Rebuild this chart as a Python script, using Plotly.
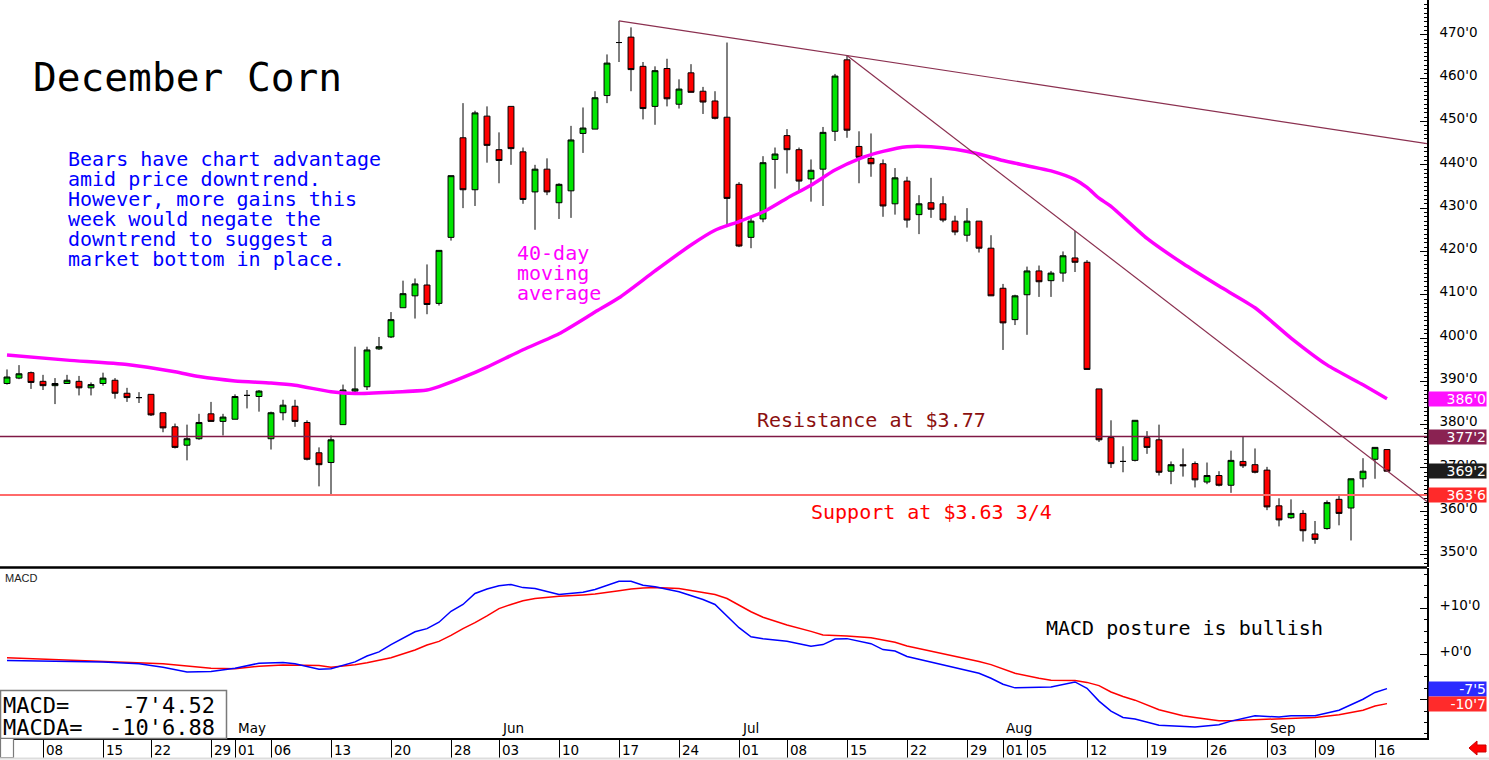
import pandas as pd
import plotly.graph_objects as go

# ---------------- data ----------------
holidays = ["2019-04-19", "2019-05-27", "2019-07-04", "2019-09-02"]
dates = [d for d in pd.bdate_range("2019-04-03", "2019-09-17")
         if d.strftime("%Y-%m-%d") not in holidays]
x_idx = list(range(len(dates)))

opens = [389.5, 390.75, 392.0, 390.0, 389.0, 389.5, 390.0, 388.5, 389.5, 390.25,
         387.25, 386.25, 387.0, 382.75, 379.5, 375.25, 376.75, 382.5, 380.75, 381.25,
         386.75, 386.5, 376.75, 382.75, 384.25, 380.5, 373.5, 371.25, 380.0, 387.75,
         388.75, 397.5, 400.25, 407.0, 409.75, 412.25, 408.0, 423.25, 446.25, 434.25,
         451.25, 443.5, 453.5, 443.0, 433.75, 439.0, 431.25, 434.0, 447.25, 448.25,
         456.0, 468.25, 469.5, 462.75, 453.5, 462.25, 454.0, 461.25, 457.0, 454.75,
         451.0, 435.5, 423.25, 427.5, 441.25, 446.75, 443.5, 436.75, 439.0, 447.75,
         464.25, 444.25, 441.5, 440.25, 431.0, 436.25, 428.5, 431.25, 431.0, 427.0,
         423.75, 427.0, 420.75, 411.5, 404.25, 410.0, 415.5, 413.25, 415.0, 418.5,
         417.5, 388.25, 377.0, 371.5, 371.75, 377.0, 376.5, 369.25, 370.75, 371.0,
         366.75, 368.25, 366.0, 371.5, 370.75, 369.5, 361.25, 358.5, 359.5, 354.75,
         356.0, 362.75, 360.75, 367.5, 372.0, 374.25]
highs = [392.75, 393.75, 392.25, 391.5, 390.75, 391.5, 391.25, 389.75, 392.0, 390.75,
         388.5, 387.5, 387.0, 382.75, 380.25, 380.0, 382.5, 385.25, 382.5, 387.0,
         388.0, 388.0, 383.0, 385.75, 385.75, 381.0, 374.75, 377.5, 389.25, 398.0,
         398.0, 400.25, 406.0, 413.25, 413.75, 417.0, 420.25, 437.5, 454.25, 452.5,
         453.5, 447.5, 453.5, 444.0, 440.0, 441.5, 435.75, 449.0, 453.25, 457.0,
         465.5, 473.25, 471.75, 463.75, 462.75, 464.5, 459.75, 463.25, 458.0, 457.0,
         468.25, 436.0, 428.0, 442.0, 444.0, 448.25, 444.0, 441.25, 448.75, 461.0,
         465.25, 447.75, 447.25, 441.25, 439.25, 437.25, 433.0, 437.0, 432.75, 428.25,
         430.0, 427.0, 423.75, 412.5, 410.0, 416.5, 416.75, 415.5, 420.0, 424.75,
         418.0, 388.25, 381.0, 375.0, 381.0, 378.5, 380.0, 371.5, 374.5, 371.5,
         371.25, 369.25, 374.0, 377.25, 374.5, 370.25, 363.0, 362.75, 360.25, 357.75,
         362.5, 363.5, 367.5, 372.25, 374.75, 374.25]
lows = [389.25, 390.5, 388.25, 388.0, 384.75, 389.5, 386.75, 386.75, 389.0, 386.0,
        385.25, 385.0, 382.0, 378.25, 374.5, 371.75, 376.5, 380.75, 377.5, 381.25,
        383.75, 383.0, 374.25, 381.0, 379.5, 371.75, 365.75, 363.75, 380.0, 387.25,
        388.0, 397.25, 400.0, 407.0, 404.5, 405.5, 407.5, 422.5, 430.0, 430.5,
        440.5, 435.75, 440.0, 431.0, 425.0, 433.0, 427.5, 427.75, 442.75, 448.25,
        454.25, 463.75, 457.0, 450.5, 449.25, 453.5, 453.0, 456.75, 451.75, 450.5,
        426.0, 421.0, 420.75, 426.75, 434.5, 438.0, 433.5, 431.5, 430.5, 445.5,
        446.25, 435.75, 437.25, 428.0, 428.5, 425.5, 424.0, 427.75, 426.75, 423.75,
        422.25, 419.75, 409.75, 397.25, 403.0, 400.75, 409.5, 409.5, 413.0, 415.25,
        392.75, 376.0, 370.0, 369.0, 371.5, 373.25, 368.25, 366.25, 368.0, 365.5,
        366.25, 365.75, 364.25, 370.0, 368.75, 360.25, 356.5, 358.25, 353.0, 352.5,
        355.75, 356.75, 353.25, 365.5, 367.5, 369.25]
closes = [391.0, 391.75, 389.75, 389.0, 389.5, 390.25, 388.5, 389.25, 390.75, 387.25,
          386.25, 386.25, 382.25, 379.25, 374.75, 376.75, 380.5, 380.75, 381.75, 386.5,
          386.75, 387.75, 382.75, 384.5, 380.75, 372.0, 370.75, 376.5, 388.0, 388.25,
          397.25, 398.0, 404.25, 410.25, 412.5, 407.75, 420.25, 437.5, 434.25, 452.0,
          444.5, 441.0, 443.75, 432.0, 439.0, 433.75, 435.5, 445.75, 448.5, 455.5,
          463.5, 468.25, 462.0, 453.0, 461.75, 455.25, 457.5, 456.75, 454.5, 450.75,
          432.25, 421.25, 427.0, 440.5, 442.5, 443.5, 436.25, 438.75, 447.5, 460.5,
          448.0, 441.75, 440.25, 430.5, 437.0, 427.25, 431.0, 429.75, 427.25, 424.5,
          427.0, 420.75, 409.75, 403.5, 409.75, 415.5, 413.0, 415.0, 419.0, 417.5,
          392.75, 376.5, 371.0, 371.5, 381.0, 374.75, 369.0, 370.75, 370.5, 367.25,
          368.25, 366.0, 371.75, 370.5, 369.0, 361.0, 358.0, 359.5, 355.5, 353.5,
          362.0, 359.5, 367.5, 369.25, 374.75, 369.25]

# 40-day moving average, read at selected sessions
ma_idx = [0, 5, 10, 14, 16, 19, 22, 24, 27, 29, 32, 35, 36, 38, 40, 43, 46, 49, 51, 54,
          57, 59, 61, 63, 65, 67, 69, 71, 73, 75, 77, 79, 81, 83, 85, 87, 89, 90, 91, 92,
          95, 98, 101, 104, 107, 110, 113, 115]
ma_val = [396.1, 394.9, 393.9, 392.2, 391.1, 390.1, 389.6, 389.1, 387.6, 387.2,
          387.5, 388.0, 388.8, 390.9, 393.3, 397.3, 401.0, 406.0, 409.3, 415.5,
          421.5, 424.9, 426.9, 429.1, 432.3, 435.3, 438.8, 441.4, 443.1, 444.2,
          444.2, 443.6, 442.5, 441.0, 439.8, 438.6, 436.6, 434.8, 432.3, 430.4,
          423.0, 417.2, 412.0, 407.0, 400.0, 393.8, 389.2, 386.0]

# MACD (blue) and its average (red), read at selected sessions
macd_idx = [0, 2, 8, 11, 13, 15, 17, 19, 21, 23, 24, 26, 27, 29, 30, 31, 32, 34, 35, 36,
            37, 38, 39, 40, 41, 42, 43, 44, 46, 48, 49, 51, 52, 53, 54, 56, 58, 59, 60, 61,
            62, 63, 65, 67, 68, 69, 70, 72, 73, 74, 75, 77, 79, 81, 82, 83, 84, 86, 87, 89,
            90, 91, 92, 93, 94, 96, 98, 99, 101, 102, 104, 106, 107, 109, 111, 112, 113, 114, 115]
macd_val = [-1.4, -1.5, -1.7, -2.1, -2.9, -3.9, -3.8, -3.1, -2.0, -1.85, -2.1, -3.3, -3.2, -1.7,
            -0.4, 0.5, 2.1, 4.9, 5.6, 7.0, 9.4, 10.9, 13.3, 14.3, 15.0, 15.3, 14.6, 14.4, 13.1,
            13.6, 14.2, 16.0, 16.0, 15.1, 14.8, 13.7, 12.0, 10.9, 8.4, 5.8, 3.8, 3.4, 2.85, 1.75,
            2.1, 3.3, 3.4, 2.3, 1.0, 0.7, -0.5, -1.7, -3.0, -4.2, -5.3, -6.6, -7.4, -7.2, -7.2,
            -6.1, -7.5, -10.3, -12.5, -13.9, -14.25, -15.6, -15.8, -16.0, -15.5, -14.7, -13.5,
            -13.8, -13.5, -13.5, -12.3, -11.1, -9.9, -8.4, -7.57]
macda_val = [-0.8, -1.0, -1.55, -1.75, -2.1, -2.6, -3.1, -3.2, -2.65, -2.4, -2.4, -2.5, -2.85,
             -2.35, -1.9, -1.4, -0.8, 0.9, 2.0, 2.8, 4.1, 5.6, 6.9, 8.4, 10.0, 10.9, 11.7, 12.2,
             12.7, 13.0, 13.2, 13.9, 14.3, 14.5, 14.6, 14.4, 13.6, 13.1, 12.2, 10.8, 9.3, 8.1,
             6.4, 5.0, 4.2, 4.1, 4.0, 3.6, 3.1, 2.6, 1.8, 0.66, -0.36, -1.6, -2.3, -3.2, -4.2,
             -5.3, -5.75, -5.8, -6.2, -6.9, -8.3, -9.3, -10.1, -12.2, -13.5, -13.9, -14.6,
             -14.6, -14.4, -14.1, -14.0, -13.9, -13.3, -12.8, -12.3, -11.4, -10.86]

resistance = 377.25
support = 363.75
trend1_idx = [51, 70]   # sessions whose highs define the long downtrend line
trend2_idx = [70, 89]   # sessions whose highs define the short downtrend line

price_tickvals = [350, 360, 370, 380, 390, 400, 410, 420, 430, 440, 450, 460, 470]
price_ticktext = ["350'0", "360'0", "370'0", "380'0", "390'0", "400'0", "410'0",
                  "420'0", "430'0", "440'0", "450'0", "460'0", "470'0"]
macd_tickvals = [10, 0, -10]
macd_ticktext = ["+10'0", "+0'0", ""]

tick_dates = ["2019-04-08", "2019-04-15", "2019-04-22", "2019-04-29", "2019-05-01",
              "2019-05-06", "2019-05-13", "2019-05-20", "2019-05-28", "2019-06-03",
              "2019-06-10", "2019-06-17", "2019-06-24", "2019-07-01", "2019-07-08",
              "2019-07-15", "2019-07-22", "2019-07-29", "2019-08-01", "2019-08-05",
              "2019-08-12", "2019-08-19", "2019-08-26", "2019-09-03", "2019-09-09",
              "2019-09-16"]
tick_labels = ["08", "15", "22", "29", "01", "06", "13", "20", "28", "03", "10", "17", "24",
               "01", "08", "15", "22", "29", "01", "05", "12", "19", "26", "03", "09", "16"]
month_dates = ["2019-05-01", "2019-06-03", "2019-07-01", "2019-08-01", "2019-09-03"]
month_labels = ["May", "Jun", "Jul", "Aug", "Sep"]

last_labels = [(386.0, "386'0", "#FF10FF"), (377.25, "377'2", "#8A2252"),
               (369.25, "369'2", "#1C1C1C"), (363.75, "363'6", "#FF2A2A")]
macd_last_labels = [(-7.5652, "-7'5", "#2B2BFF"), (-10.86, "-10'7", "#FF2B2B")]

# ---------------- layout geometry ----------------
W, H = 1489, 760
ML, MR, MT, MB = 0, 62, 0, 22
PW, PH = W - ML - MR, H - MT - MB
PRICE_BOTTOM_PX = 567
MACD_TOP_PX = 568


def px(xp):
    return xp / PW


def py(yp):
    return 1 - yp / PH


date_pos = {d.strftime("%Y-%m-%d"): i for i, d in enumerate(dates)}
tick_idx = [date_pos[d] for d in tick_dates]
month_idx = [date_pos[d] for d in month_dates]

x_range = [-7 / 12, (PW - 7) / 12]

fig = go.Figure()
fig.add_trace(go.Candlestick(
    x=x_idx, open=opens, high=highs, low=lows, close=closes,
    increasing=dict(fillcolor="#00E400", line=dict(color="black", width=1)),
    decreasing=dict(fillcolor="#FF0000", line=dict(color="black", width=1)),
    whiskerwidth=0, showlegend=False, hoverinfo="skip", xaxis="x", yaxis="y"))
fig.add_trace(go.Scatter(
    x=ma_idx, y=ma_val, mode="lines", showlegend=False, hoverinfo="skip",
    line=dict(color="#FF00FF", width=3.5, shape="spline", smoothing=0.6),
    xaxis="x", yaxis="y"))
fig.add_trace(go.Scatter(
    x=macd_idx, y=macda_val, mode="lines", showlegend=False, hoverinfo="skip",
    line=dict(color="#FF0000", width=1.5), xaxis="x", yaxis="y2"))
fig.add_trace(go.Scatter(
    x=macd_idx, y=macd_val, mode="lines", showlegend=False, hoverinfo="skip",
    line=dict(color="#0000FF", width=1.5), xaxis="x", yaxis="y2"))

shapes = []
# resistance / support
shapes.append(dict(type="line", xref="paper", yref="y", x0=0, x1=1, y0=resistance, y1=resistance,
                   line=dict(color="#7F1845", width=1.5)))
shapes.append(dict(type="line", xref="paper", yref="y", x0=0, x1=1, y0=support, y1=support,
                   line=dict(color="#FF6A6A", width=2)))
# trend lines through pairs of highs, extended to the right edge
for a, b in (trend1_idx, trend2_idx):
    slope = (highs[b] - highs[a]) / (b - a)
    x_end = x_range[1]
    shapes.append(dict(type="line", xref="x", yref="y", x0=a, y0=highs[a],
                       x1=x_end, y1=highs[a] + slope * (x_end - a),
                       line=dict(color="#8B3050", width=1.2)))
# panel separator
shapes.append(dict(type="line", xref="paper", yref="paper", x0=0, x1=1,
                   y0=py(567.5), y1=py(567.5), line=dict(color="black", width=2.5)))
# MACD value box
shapes.append(dict(type="rect", xref="paper", yref="paper", x0=px(0.5), x1=px(226.5),
                   y0=py(738.5), y1=py(690.5), fillcolor="white",
                   line=dict(color="#7A7A7A", width=1.5)))
# small box bottom-left
shapes.append(dict(type="rect", xref="paper", yref="paper", x0=px(0.5), x1=px(13.5),
                   y0=py(757.5), y1=py(738.5), fillcolor="white",
                   line=dict(color="#7A7A7A", width=1.2)))
# red arrow bottom-right
pts = [(1469, 748), (1477, 741), (1477, 745), (1486, 745), (1486, 752), (1477, 752), (1477, 755)]
path = "M " + " L ".join(f"{px(a):.5f},{py(b):.5f}" for a, b in pts) + " Z"
shapes.append(dict(type="path", xref="paper", yref="paper", path=path,
                   fillcolor="#FF0000", line=dict(color="#CC0000", width=1)))
# light bottom rule
shapes.append(dict(type="line", xref="paper", yref="paper", x0=0, x1=px(1489),
                   y0=py(758.5), y1=py(758.5), line=dict(color="#DDDDDD", width=2)))

MONO = "DejaVu Sans Mono"
SANS = "DejaVu Sans"
ann = []


def text_at(t, xp, yp, size, color, family=MONO):
    ann.append(dict(text=t, xref="paper", yref="paper", x=px(xp), y=py(yp),
                    xanchor="left", yanchor="middle", showarrow=False,
                    font=dict(family=family, size=size, color=color)))


text_at("December Corn", 31, 77, 39.5, "black")
blue_lines = ["Bears have chart advantage", "amid price downtrend.",
              "However, more gains this", "week would negate the",
              "downtrend to suggest a", "market bottom in place."]
for k, t in enumerate(blue_lines):
    text_at(t, 66, 159 + 20 * k, 20, "#0000FF")
for k, t in enumerate(["40-day", "moving", "average"]):
    text_at(t, 515, 253 + 20 * k, 20, "#FF00FF")
text_at("Resistance at $3.77", 755, 420, 20, "#8B1010")
text_at("Support at $3.63 3/4", 809, 512, 20, "#FF0000")
text_at("MACD posture is bullish", 1044, 628, 20, "black")
text_at("MACD", 3, 578, 11, "#222222", family="Liberation Sans")
text_at("MACD=    -7'4.52", 1, 705, 22, "black")
text_at("MACDA=  -10'6.88", 1, 727, 22, "black")

for i, lab in zip(tick_idx, tick_labels):
    ann.append(dict(text=lab, xref="x", yref="paper", x=i, y=0, xanchor="left", yanchor="top",
                    xshift=1, yshift=-2, showarrow=False,
                    font=dict(family=SANS, size=13.5, color="black")))
for i, lab in zip(month_idx, month_labels):
    ann.append(dict(text=lab, xref="x", yref="paper", x=i, y=0, xanchor="left", yanchor="bottom",
                    xshift=1, yshift=0, showarrow=False,
                    font=dict(family=SANS, size=13.5, color="black")))

for val, t, col in last_labels:
    ann.append(dict(text=t, xref="paper", yref="y", x=1, y=val, xanchor="left", yanchor="middle",
                    xshift=1, showarrow=False, bgcolor=col, width=57, height=14, align="right",
                    borderpad=0, font=dict(family=SANS, size=14, color="white")))
for val, t, col in macd_last_labels:
    ann.append(dict(text=t, xref="paper", yref="y2", x=1, y=val, xanchor="left", yanchor="middle",
                    xshift=1, showarrow=False, bgcolor=col, width=57, height=14, align="right",
                    borderpad=0, font=dict(family=SANS, size=14, color="white")))

price_dom = [1 - PRICE_BOTTOM_PX / PH, 1]
macd_dom = [0, 1 - MACD_TOP_PX / PH]
y_top = 478.07
y_bot = y_top - PRICE_BOTTOM_PX / 4.33

fig.update_layout(
    width=W, height=H, margin=dict(l=ML, r=MR, t=MT, b=MB),
    paper_bgcolor="white", plot_bgcolor="white", showlegend=False,
    xaxis=dict(domain=[0, 1], range=x_range, anchor="y2", showgrid=False, zeroline=False,
               showline=True, linecolor="black", linewidth=1.5, ticks="outside", ticklen=19,
               tickcolor="black", tickwidth=1, tickmode="array", tickvals=tick_idx,
               showticklabels=False, rangeslider=dict(visible=False), fixedrange=True),
    yaxis=dict(domain=price_dom, range=[y_bot, y_top], side="right", anchor="x",
               showgrid=False, zeroline=False, showline=True, linecolor="black", linewidth=1.5,
               ticks="inside", ticklen=7, tickcolor="black", tickmode="array",
               tickvals=price_tickvals, ticktext=price_ticktext, ticklabelstandoff=8,
               ticklabelshift=-3,
               tickfont=dict(family=SANS, size=13.5, color="black"),
               minor=dict(dtick=1, ticks="inside", ticklen=3, tickcolor="black", showgrid=False),
               fixedrange=True),
    yaxis2=dict(domain=macd_dom, range=[-18.4, 18.9], side="right", anchor="x",
                showgrid=False, zeroline=False, showline=True, linecolor="black", linewidth=1.5,
                ticks="inside", ticklen=7, tickcolor="black", tickmode="array",
                tickvals=macd_tickvals, ticktext=macd_ticktext, ticklabelstandoff=8,
                ticklabelshift=-3,
                tickfont=dict(family=SANS, size=13.5, color="black"),
                minor=dict(dtick=2.5, ticks="inside", ticklen=3, tickcolor="black", showgrid=False),
                fixedrange=True),
    shapes=shapes, annotations=ann,
)

fig.write_html("out.html", config={"displayModeBar": False})
